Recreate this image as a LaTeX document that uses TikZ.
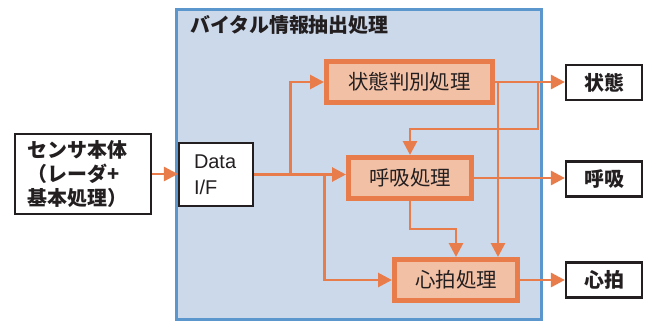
\documentclass[tikz,border=0pt]{standalone}
\usepackage{fontspec}
\setmainfont{Liberation Sans}
\newfontfamily\jp{Noto Sans CJK JP}
\usetikzlibrary{arrows.meta,calc}
\definecolor{bluefill}{RGB}{204,217,235}
\definecolor{blueline}{RGB}{91,150,205}
\definecolor{org}{RGB}{232,125,75}
\definecolor{peach}{RGB}{242,192,165}
\definecolor{ink}{RGB}{35,31,32}
\begin{document}
\begin{tikzpicture}[x=1bp,y=-1bp,
  blackbox/.style={draw=ink,line width=2.2bp,fill=white,inner sep=0pt,outer sep=1.1bp,text=ink},
  procbox/.style={draw=org,line width=5bp,fill=peach,inner sep=0pt,outer sep=2.5bp,
    minimum width=166bp,minimum height=41bp,text=ink,font=\jp\fontsize{20.5}{24}\selectfont},
  outbox/.style={blackbox,minimum width=76bp,minimum height=35bp,font=\jp\bfseries\fontsize{20}{24}\selectfont},
  arr/.style={draw=org,line width=2.8bp,-{Triangle[length=14bp,width=14bp]}},
  conn/.style={draw=org,line width=2.8bp}]
\useasboundingbox (0,0) rectangle (651,322);
\node[draw=blueline,line width=3bp,fill=bluefill,minimum width=365bp,minimum height=310bp,inner sep=0pt] (vital) at (359,164.5) {};
\node[anchor=west,inner sep=0pt,text=ink,font=\jp\bfseries\fontsize{20}{24}\selectfont] (title) at (190,25) {バイタル情報抽出処理};
\node[blackbox,minimum width=136bp,minimum height=80bp,text width=110bp,align=left,
  font=\jp\bfseries\fontsize{20}{24}\selectfont] (sensor) at (83,174) {センサ本体\\（レーダ+\\基本処理）};
\node[blackbox,minimum width=74bp,minimum height=63bp,text width=44bp,align=left,
  font=\fontsize{20}{26}\selectfont] (data) at (216,174.5) {Data\\I/F};
\node[procbox] (judge) at (409.5,82) {状態判別処理};
\node[procbox,minimum width=123bp] (resp) at (410,178) {呼吸処理};
\node[procbox,minimum width=123bp] (heart) at (456,280) {心拍処理};
\node[outbox] (stateo) at (604,82.5) {状態};
\node[outbox] (respo) at (604,179) {呼吸};
\node[outbox] (hearto) at (604,280) {心拍};
% connectors
\draw[arr] (sensor.east) -- (sensor.east -| data.west);
\draw[arr] (data.east) -- ++(36,0) |- (judge.west);
\draw[arr] (data.east) -- (data.east -| resp.west);
\draw[arr] (data.east) -- ++(70,0) |- (heart.west);
\draw[arr] (judge.east) -- (judge.east -| stateo.west);
\draw[arr] (judge.east) -- ++(3,0) coordinate (jd) -- (jd |- heart.north);
\draw[arr] (judge.east) -- ++(43,0) -- ++(0,47) -| (resp.north);
\draw[arr] (resp.south) -- ++(0,28) -| (heart.north);
\draw[arr] (resp.east) -- (resp.east -| respo.west);
\draw[arr] (heart.east) -- (heart.east -| hearto.west);
\end{tikzpicture}
\end{document}
